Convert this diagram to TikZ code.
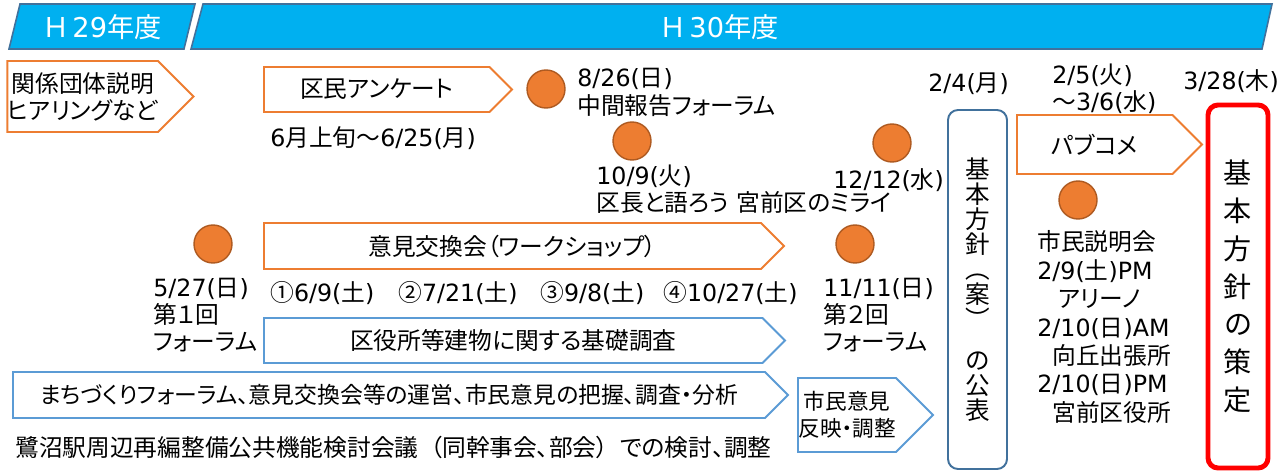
\documentclass[tikz,border=0pt]{standalone}
\usepackage{fontspec}
\setmainfont{DejaVu Sans}
\newfontfamily\cjkfont{Noto Sans CJK JP}[RawFeature=+palt]
\usetikzlibrary{shapes.symbols}
% CJK characters switch to the Japanese font
\XeTeXinterchartokenstate=1
\newXeTeXintercharclass\cjkclass
\newcount\cjkcnt
\newcommand\setcjkrange[2]{%
  \cjkcnt=#1\relax
  \loop
    \XeTeXcharclass\cjkcnt=\cjkclass
    \ifnum\cjkcnt<#2\relax \advance\cjkcnt by 1 \repeat}
\setcjkrange{"2460}{"24FF}
\setcjkrange{"3000}{"30FF}
\setcjkrange{"4E00}{"9FFF}
\setcjkrange{"FE30}{"FE4F}
\setcjkrange{"FF00}{"FFEF}
\XeTeXinterchartoks 0 \cjkclass = {\begingroup\cjkfont}
\XeTeXinterchartoks 4095 \cjkclass = {\begingroup\cjkfont}
\XeTeXinterchartoks \cjkclass 0 = {\endgroup}
\XeTeXinterchartoks \cjkclass 4095 = {\endgroup}
\definecolor{bannerfill}{HTML}{00B0F0}
\definecolor{bannerline}{HTML}{41719C}
\definecolor{arroworange}{HTML}{ED7D31}
\definecolor{arrowblue}{HTML}{5B9BD5}
\definecolor{dotorange}{HTML}{ED7D31}
\definecolor{dotedge}{HTML}{AE5A21}
\definecolor{boxblue}{HTML}{41719C}
\definecolor{boxred}{HTML}{FF0000}
\begin{document}
\begin{tikzpicture}[x=0.02cm,y=-0.02cm,
  every node/.style={font=\fontsize{13.5}{15.5}\selectfont},
  banner/.style={fill=bannerfill,draw=bannerline,line width=0.9pt},
  bannertext/.style={text=white,inner sep=0pt,font=\fontsize{15.5}{18}\selectfont},
  boxsize/.style 2 args={minimum width=#1*0.02cm,minimum height=#2*0.02cm},
  arrowbox/.style={signal,signal to=east,signal pointer angle=90,fill=white,
    line width=1.1pt,inner sep=0pt,align=center},
  orangearrow/.style={arrowbox,draw=arroworange},
  bluearrow/.style={arrowbox,draw=arrowblue},
  evdot/.style={circle,fill=dotorange,draw=dotedge,line width=0.8pt,
    minimum size=38*0.02cm,inner sep=0pt},
  note/.style={anchor=west,align=left,inner sep=0pt},
  vbox/.style={rectangle,rounded corners=0.2cm,align=center,inner sep=0pt}]
  \useasboundingbox (0,0) rectangle (1283,473);

  % fiscal years
  \draw[banner] (20,4) -- (195,4) -- (184,49) -- (9,49) -- cycle;
  \draw[banner] (203,4) -- (1272,4) -- (1262,49) -- (191,49) -- cycle;
  \node[bannertext] (h29) at (103,27) {Ｈ\hspace{0.15em}29年度};
  \node[bannertext] (h30) at (720,27) {Ｈ\hspace{0.15em}30年度};

  % arrows (placed at the centre of the box part)
  \node[orangearrow,boxsize={183}{71}] (hearing) at (82.75,96.5)
    {関係団体説明\\ヒアリングなど};
  \node[orangearrow,boxsize={248}{45}] (survey) at (376.75,89.5) {区民アンケート};
  \node[orangearrow,boxsize={520}{46}] (workshop) at (512.5,246)
    {意見交換会（ワークショップ）};
  \node[bluearrow,boxsize={521}{45}] (building) at (513.25,340.5)
    {区役所等建物に関する基礎調査};
  \node[bluearrow,boxsize={775}{46},font=\fontsize{13}{15}\selectfont] (forum)
    at (389,395)
    {まちづくりフォーラム、意見交換会等の運営、市民意見の把握、調査・分析};
  \node[bluearrow,boxsize={135}{74},font=\fontsize{12.3}{15.5}\selectfont]
    (reflect) at (847,415) {市民意見\\反映・調整};
  \node[orangearrow,boxsize={185}{59}] (pubcom) at (1094.75,144.5) {パブコメ};

  % policy boxes
  \node[vbox,draw=boxblue,line width=1.1pt,boxsize={59}{359},
    font=\fontsize{14}{14.2}\selectfont] (draft) at (977.5,289.5)
    {基\\本\\方\\針\\︵\\案\\︶\\[9pt]の\\公\\表};
  \node[vbox,draw=boxred,line width=2.8pt,boxsize={60}{363},
    font=\fontsize{16}{21.5}\selectfont] (final) at (1238,286.5)
    {基\\本\\方\\針\\の\\策\\定};

  % events
  \node[evdot] (c527) at (213,244) {};
  \node[evdot] (c826) at (546,89) {};
  \node[evdot] (c109) at (632,141) {};
  \node[evdot] (c1212) at (892,143) {};
  \node[evdot] (c1111) at (855,244) {};
  \node[evdot] (cbrief) at (1078,200) {};

  % dates and notes
  \node[note] (period) at (270,138) {6月上旬～6/25(月)};
  \node[note] (n826) at (577,92.5) {8/26(日)\\中間報告フォーラム};
  \node[note] (n109) at (596,189.5) {10/9(火)\\区長と語ろう 宮前区のミライ};
  \node[note] (n1212) at (833,180) {12/12(水)};
  \node[note] (n204) at (928,84) {2/4(月)};
  \node[note] (n205) at (1052,88.5) {2/5(火)\\～3/6(水)};
  \node[note] (n328) at (1183,81) {3/28(木)};
  \node[note] (n527) at (153,315) {5/27(日)\\第１回\\フォーラム};
  \node[note] (n1111) at (823,315) {11/11(日)\\第２回\\フォーラム};
  \node[note] (ws1) at (270,293) {①6/9(土)};
  \node[note] (ws2) at (398,293) {②7/21(土)};
  \node[note] (ws3) at (540,293) {③9/8(土)};
  \node[note] (ws4) at (663,293) {④10/27(土)};
  \node[note,font=\fontsize{13.5}{16.2}\selectfont] (brief) at (1037,327)
    {市民説明会\\2/9(土)PM\\\hspace*{12pt}アリーノ\\2/10(日)AM\\
     \hspace*{8.5pt}向丘出張所\\2/10(日)PM\\\hspace*{8.5pt}宮前区役所};
  \node[note] (council) at (15,447)
    {鷺沼駅周辺再編整備公共機能検討会議\hspace{0.5em}（同幹事会、部会）\hspace{0.5em}での検討、調整};
\end{tikzpicture}
\end{document}
